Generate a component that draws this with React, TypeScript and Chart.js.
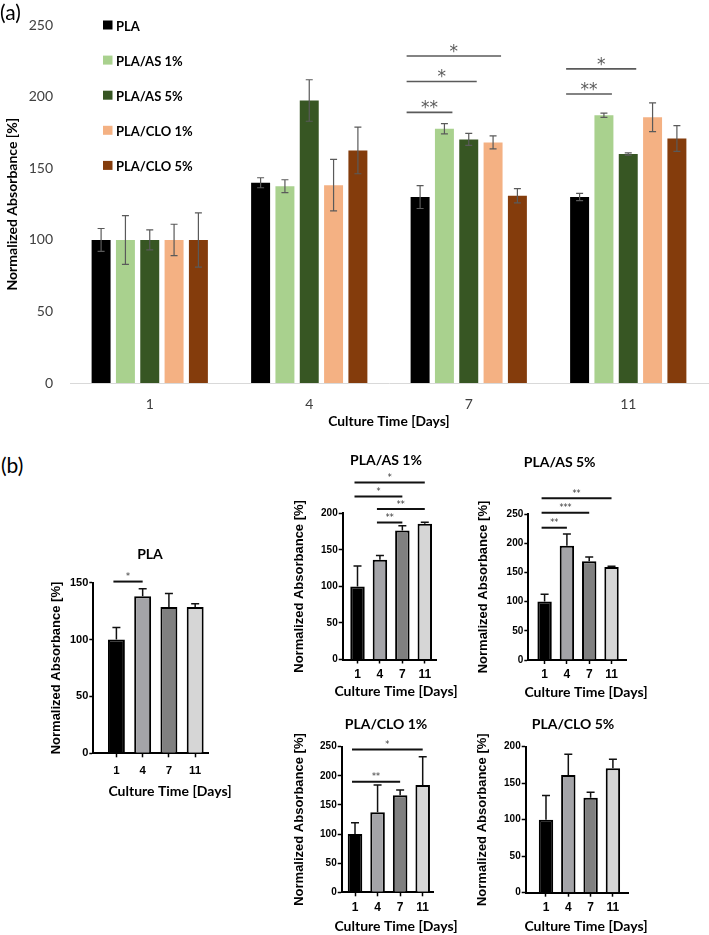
import React, { useEffect, useRef } from 'react';
import { Chart, registerables } from 'chart.js';

Chart.register(...registerables);

// ---------------- Panel (a) data ----------------
const DAYS = ['1', '4', '7', '11'];
const SERIES = ['PLA', 'PLA/AS 1%', 'PLA/AS 5%', 'PLA/CLO 1%', 'PLA/CLO 5%'];
const SERIES_COLORS = ['#000000', '#a9d18e', '#375623', '#f4b183', '#843c0c'];

const PLA_MEAN = [100, 140, 130, 130];
const PLA_SD = [8, 3.5, 8, 2.5];
const AS1_MEAN = [100, 137.6, 177.7, 187.2];
const AS1_SD = [17, 4.5, 3.6, 1.5];
const AS5_MEAN = [100, 197.5, 170.3, 160.1];
const AS5_SD = [7, 14.5, 4.2, 0.8];
const CLO1_MEAN = [100, 138.3, 168.2, 185.8];
const CLO1_SD = [11, 18, 4.5, 10];
const CLO5_MEAN = [100, 162.6, 130.9, 170.9];
const CLO5_SD = [19, 16.3, 5, 9];

// significance brackets of panel (a): day index, series from -> to, height (value), label
const SIG_A_DAY = [2, 2, 2, 3, 3];
const SIG_A_FROM = [0, 0, 0, 0, 0];
const SIG_A_TO = [3, 2, 1, 2, 1];
const SIG_A_Y = [228.6, 210.8, 189.2, 219.6, 202];
const SIG_A_LABEL = ['*', '*', '**', '*', '**'];

// ---------------- Panel (b) data ----------------
const B_COLORS = ['#000000', '#a4a4a8', '#808080', '#d6d6d6'];

const B_PLA_MEAN = [100, 138, 128.6, 128.6];
const B_PLA_SD = [10.5, 6.7, 11.8, 3];
const B_AS1_MEAN = [100, 136.3, 176.4, 185.6];
const B_AS1_SD = [28, 6, 6.5, 2];
const B_AS5_MEAN = [100, 195.7, 169, 159.2];
const B_AS5_SD = [12.5, 20, 7.5, 1.5];
const B_CLO1_MEAN = [100, 137.3, 166.5, 184.2];
const B_CLO1_SD = [19.5, 47, 9, 48.5];
const B_CLO5_MEAN = [100, 161.2, 130, 170.4];
const B_CLO5_SD = [33, 28.4, 7.5, 12.3];

const B_PLA_SIG = [{ from: 0, to: 1, y: 151, label: '*' }];
const B_AS1_SIG = [
  { from: 0, to: 3, y: 242, label: '*' },
  { from: 0, to: 2, y: 223, label: '*' },
  { from: 1, to: 3, y: 205.8, label: '**' },
  { from: 1, to: 2, y: 187.4, label: '**' },
];
const B_AS5_SIG = [
  { from: 0, to: 3, y: 277, label: '**' },
  { from: 0, to: 2, y: 252, label: '***' },
  { from: 0, to: 1, y: 226.5, label: '**' },
];
const B_CLO1_SIG = [
  { from: 0, to: 3, y: 245.4, label: '*' },
  { from: 0, to: 2, y: 189.8, label: '**' },
];
const B_CLO5_SIG: { from: number; to: number; y: number; label: string }[] = [];

// ---------------- Fonts ----------------
const LATO = 'Lato, "Open Sans", sans-serif';
const ARIAL = '"Liberation Sans", Arial, sans-serif';
const STAR = '"DejaVu Sans", sans-serif';

function fillCentered(ctx: CanvasRenderingContext2D, text: string, x: number, cy: number) {
  const m = ctx.measureText(text);
  const asc = m.actualBoundingBoxAscent;
  const desc = m.actualBoundingBoxDescent;
  ctx.textAlign = 'center';
  ctx.textBaseline = 'alphabetic';
  ctx.fillText(text, x, cy + (asc - desc) / 2);
}

// ---------------- Panel (a) chart ----------------
function TopChart() {
  const ref = useRef<HTMLCanvasElement>(null);
  useEffect(() => {
    const means = [PLA_MEAN, AS1_MEAN, AS5_MEAN, CLO1_MEAN, CLO5_MEAN];
    const sds = [PLA_SD, AS1_SD, AS5_SD, CLO1_SD, CLO5_SD];

    const errPlugin = {
      id: 'errA',
      afterDatasetsDraw(chart: any) {
        const { ctx } = chart;
        const ys = chart.scales.y;
        ctx.save();
        ctx.strokeStyle = '#5a5a5a';
        ctx.lineWidth = 1.2;
        means.forEach((m, di) => {
          const meta = chart.getDatasetMeta(di);
          meta.data.forEach((el: any, i: number) => {
            const t = ys.getPixelForValue(m[i] + sds[di][i]);
            const b = ys.getPixelForValue(m[i] - sds[di][i]);
            ctx.beginPath();
            ctx.moveTo(el.x, t);
            ctx.lineTo(el.x, b);
            ctx.moveTo(el.x - 3.5, t);
            ctx.lineTo(el.x + 3.5, t);
            ctx.moveTo(el.x - 3.5, b);
            ctx.lineTo(el.x + 3.5, b);
            ctx.stroke();
          });
        });
        ctx.restore();
      },
    };

    const sigPlugin = {
      id: 'sigA',
      afterDatasetsDraw(chart: any) {
        const { ctx } = chart;
        const ys = chart.scales.y;
        ctx.save();
        ctx.strokeStyle = '#5a5a5a';
        ctx.fillStyle = '#5a5a5a';
        ctx.lineWidth = 1.6;
        ctx.font = `17px ${STAR}`;
        SIG_A_DAY.forEach((day, k) => {
          const e0: any = chart.getDatasetMeta(SIG_A_FROM[k]).data[day];
          const e1: any = chart.getDatasetMeta(SIG_A_TO[k]).data[day];
          const x0 = e0.x - e0.width / 2 - 4;
          const x1 = e1.x + e1.width / 2 - 1.5;
          const y = ys.getPixelForValue(SIG_A_Y[k]);
          ctx.beginPath();
          ctx.moveTo(x0, y);
          ctx.lineTo(x1, y);
          ctx.stroke();
          fillCentered(ctx, SIG_A_LABEL[k], (x0 + x1) / 2, y - 7.5);
        });
        ctx.restore();
      },
    };

    const legendPlugin = {
      id: 'legendA',
      afterDraw(chart: any) {
        const { ctx } = chart;
        ctx.save();
        ctx.font = `bold 13px ${LATO}`;
        SERIES.forEach((name, i) => {
          const cy = 26 + i * 35.1;
          ctx.fillStyle = SERIES_COLORS[i];
          ctx.fillRect(103, cy - 5.5, 9.5, 9);
          ctx.fillStyle = '#000';
          ctx.textAlign = 'left';
          ctx.textBaseline = 'middle';
          ctx.fillText(name, 116, cy + 0.5);
        });
        ctx.restore();
      },
    };

    const chart = new Chart(ref.current as HTMLCanvasElement, {
      type: 'bar',
      data: {
        labels: DAYS,
        datasets: SERIES.map((name, i) => ({
          label: name,
          data: means[i],
          backgroundColor: SERIES_COLORS[i],
          borderWidth: 0,
          categoryPercentage: 0.7625,
          barPercentage: 0.78,
        })),
      },
      options: {
        animation: false,
        responsive: false,
        layout: { padding: { top: 13, right: 1, left: 0, bottom: 0 } },
        plugins: { legend: { display: false }, tooltip: { enabled: false } },
        scales: {
          x: {
            grid: { display: false, drawTicks: false },
            border: { display: true, color: '#d9d9d9', width: 1 },
            ticks: { font: { family: LATO, size: 14 }, color: '#404040', padding: 12.6 },
            title: {
              display: true,
              text: 'Culture Time [Days]',
              font: { family: LATO, size: 13.8, weight: 'bold' },
              color: '#000',
              padding: { top: 0, bottom: 2 },
            },
            afterFit: (s: any) => {
              s.height = 49;
            },
          },
          y: {
            min: 0,
            max: 250,
            ticks: { stepSize: 50, font: { family: LATO, size: 14 }, color: '#404040', padding: 17 },
            grid: { display: false, drawTicks: false },
            border: { display: false },
            title: {
              display: true,
              text: 'Normalized Absorbance [%]',
              font: { family: LATO, size: 14, weight: 'bold' },
              color: '#000',
              padding: { top: 3.6, bottom: 0 },
            },
            afterFit: (s: any) => {
              s.width = 70;
            },
          },
        },
      } as any,
      plugins: [errPlugin, sigPlugin, legendPlugin],
    });
    return () => chart.destroy();
  }, []);
  return (
    <canvas
      ref={ref}
      width={709}
      height={432}
      style={{ position: 'absolute', left: 0, top: 0, width: 709, height: 432 }}
    />
  );
}

// ---------------- Panel (b) charts ----------------
type Sig = { from: number; to: number; y: number; label: string };
type SmallCfg = {
  title: string;
  mean: number[];
  sd: number[];
  sig: Sig[];
  yMax: number;
  rect: { left: number; top: number; width: number; height: number };
  area: { left: number; top: number; right: number; bottom: number };
  xMin: number;
  xMax: number;
  titleX: number;
  titleY: number;
  yTitleX: number;
  yTick: number;
  xTick: number;
  xTickY: number;
  xTitleX: number;
  xTitleY: number;
};

const Y_TITLE_SIZE = 13;
const TL = 4;

function SmallChart({ cfg }: { cfg: SmallCfg }) {
  const ref = useRef<HTMLCanvasElement>(null);
  const r = cfg.rect;
  useEffect(() => {
    const c = cfg;
    const a = c.area;

    const errPlugin = {
      id: 'errB',
      afterDatasetsDraw(chart: any) {
        const { ctx } = chart;
        const ys = chart.scales.y;
        const meta = chart.getDatasetMeta(0);
        ctx.save();
        ctx.strokeStyle = '#111';
        ctx.lineWidth = 1.5;
        meta.data.forEach((el: any, i: number) => {
          const t = ys.getPixelForValue(c.mean[i] + c.sd[i]);
          ctx.beginPath();
          ctx.moveTo(el.x, el.y);
          ctx.lineTo(el.x, t);
          ctx.moveTo(el.x - 4, t);
          ctx.lineTo(el.x + 4, t);
          ctx.stroke();
        });
        ctx.restore();
      },
    };

    const sigPlugin = {
      id: 'sigB',
      afterDatasetsDraw(chart: any) {
        const { ctx } = chart;
        const xs = chart.scales.x;
        const ys = chart.scales.y;
        ctx.save();
        ctx.strokeStyle = '#111';
        ctx.fillStyle = '#333';
        ctx.lineWidth = 2;
        ctx.font = `8px ${STAR}`;
        c.sig.forEach((s) => {
          const x0 = xs.getPixelForValue(s.from) - 3;
          const x1 = xs.getPixelForValue(s.to);
          const y = ys.getPixelForValue(s.y);
          ctx.beginPath();
          ctx.moveTo(x0, y);
          ctx.lineTo(x1, y);
          ctx.stroke();
          fillCentered(ctx, s.label, (x0 + x1) / 2, y - 7);
        });
        ctx.restore();
      },
    };

    const textPlugin = {
      id: 'textB',
      afterDraw(chart: any) {
        const { ctx } = chart;
        ctx.save();
        ctx.fillStyle = '#000';
        ctx.font = `bold 14px ${LATO}`;
        fillCentered(ctx, c.title, c.titleX - r.left, c.titleY - r.top);
        ctx.font = `bold 14px ${LATO}`;
        fillCentered(ctx, 'Culture Time [Days]', c.xTitleX - r.left, c.xTitleY - r.top);
        ctx.restore();
      },
    };

    const axisGrid = {
      display: true,
      drawOnChartArea: false,
      drawTicks: true,
      tickLength: TL,
      tickColor: '#000',
      tickWidth: 1.5,
      offset: false,
    };

    const chart = new Chart(ref.current as HTMLCanvasElement, {
      type: 'bar',
      data: {
        datasets: [
          {
            data: c.mean.map((v, i) => ({ x: i, y: v })),
            backgroundColor: B_COLORS,
            borderColor: '#000',
            borderWidth: 2,
            borderSkipped: 'start',
            categoryPercentage: 1,
            barPercentage: 0.645,
          },
        ],
      },
      options: {
        animation: false,
        responsive: false,
        layout: {
          padding: { left: 0, bottom: 0, top: a.top - r.top, right: r.left + r.width - a.right },
        },
        plugins: { legend: { display: false }, tooltip: { enabled: false } },
        scales: {
          x: {
            type: 'linear',
            min: c.xMin,
            max: c.xMax,
            offset: false,
            grid: axisGrid,
            border: { display: true, color: '#000', width: 2 },
            afterBuildTicks: (s: any) => {
              s.ticks = DAYS.map((_, i) => ({ value: i }));
            },
            ticks: {
              autoSkip: false,
              maxRotation: 0,
              callback: (v: any) => DAYS[Math.round(Number(v))],
              font: { family: ARIAL, size: c.xTick, weight: 'bold' },
              color: '#000',
              padding: c.xTickY - a.bottom - TL - c.xTick * 0.6,
            },
            title: { display: false },
            afterFit: (s: any) => {
              s.height = r.top + r.height - a.bottom;
            },
          },
          y: {
            min: 0,
            max: c.yMax,
            ticks: {
              stepSize: 50,
              font: { family: ARIAL, size: c.yTick, weight: 'bold' },
              color: '#000',
              padding: 1,
            },
            grid: axisGrid,
            border: { display: true, color: '#000', width: 2 },
            title: {
              display: true,
              text: 'Normalized Absorbance [%]',
              font: { family: ARIAL, size: Y_TITLE_SIZE, weight: 'bold' },
              color: '#000',
              padding: { top: c.yTitleX - r.left - (Y_TITLE_SIZE * 1.2) / 2, bottom: 0 },
            },
            afterFit: (s: any) => {
              s.width = a.left - r.left;
            },
          },
        },
      } as any,
      plugins: [errPlugin, sigPlugin, textPlugin],
    });
    return () => chart.destroy();
  }, [cfg]);
  return (
    <canvas
      ref={ref}
      width={r.width}
      height={r.height}
      style={{ position: 'absolute', left: r.left, top: r.top, width: r.width, height: r.height }}
    />
  );
}

const SMALL: SmallCfg[] = [
  {
    title: 'PLA',
    mean: B_PLA_MEAN,
    sd: B_PLA_SD,
    sig: B_PLA_SIG,
    yMax: 150,
    rect: { left: 46, top: 540, width: 200, height: 262 },
    area: { left: 93.3, top: 582.7, right: 208.3, bottom: 753.3 },
    xMin: -0.88,
    xMax: 3.5,
    titleX: 150,
    titleY: 554,
    yTitleX: 56,
    yTick: 11,
    xTick: 11.5,
    xTickY: 770.7,
    xTitleX: 170,
    xTitleY: 791.7,
  },
  {
    title: 'PLA/AS 1%',
    mean: B_AS1_MEAN,
    sd: B_AS1_SD,
    sig: B_AS1_SIG,
    yMax: 200,
    rect: { left: 289, top: 445, width: 170, height: 257 },
    area: { left: 342.7, top: 513.3, right: 436, bottom: 659.5 },
    xMin: -0.66,
    xMax: 3.5,
    titleX: 386,
    titleY: 460,
    yTitleX: 299.3,
    yTick: 10,
    xTick: 12,
    xTickY: 675,
    xTitleX: 396,
    xTitleY: 691.7,
  },
  {
    title: 'PLA/AS 5%',
    mean: B_AS5_MEAN,
    sd: B_AS5_SD,
    sig: B_AS5_SIG,
    yMax: 250,
    rect: { left: 473, top: 447, width: 180, height: 256 },
    area: { left: 528.3, top: 514, right: 626.7, bottom: 660 },
    xMin: -0.73,
    xMax: 3.68,
    titleX: 559.7,
    titleY: 462,
    yTitleX: 483.3,
    yTick: 10,
    xTick: 12,
    xTickY: 675,
    xTitleX: 586,
    xTitleY: 692.7,
  },
  {
    title: 'PLA/CLO 1%',
    mean: B_CLO1_MEAN,
    sd: B_CLO1_SD,
    sig: B_CLO1_SIG,
    yMax: 250,
    rect: { left: 289, top: 710, width: 170, height: 225 },
    area: { left: 341.7, top: 746.7, right: 433.3, bottom: 892.3 },
    xMin: -0.59,
    xMax: 3.47,
    titleX: 386,
    titleY: 724,
    yTitleX: 299,
    yTick: 10,
    xTick: 12,
    xTickY: 907.7,
    xTitleX: 396,
    xTitleY: 926,
  },
  {
    title: 'PLA/CLO 5%',
    mean: B_CLO5_MEAN,
    sd: B_CLO5_SD,
    sig: B_CLO5_SIG,
    yMax: 200,
    rect: { left: 473, top: 710, width: 180, height: 225 },
    area: { left: 525.7, top: 746.7, right: 628.3, bottom: 892.7 },
    xMin: -0.91,
    xMax: 3.69,
    titleX: 573,
    titleY: 724,
    yTitleX: 482.7,
    yTick: 10,
    xTick: 12,
    xTickY: 908,
    xTitleX: 586,
    xTitleY: 926,
  },
];

export default function App() {
  return (
    <div
      style={{
        position: 'absolute',
        left: 0,
        top: 0,
        width: 709,
        height: 935,
        background: '#fff',
        overflow: 'hidden',
      }}
    >
      <TopChart />
      {SMALL.map((cfg) => (
        <SmallChart key={cfg.title} cfg={cfg} />
      ))}
      <div
        style={{
          position: 'absolute',
          left: 0,
          top: 1,
          fontFamily: LATO,
          fontSize: 21,
          lineHeight: '22px',
          color: '#000',
        }}
      >
        (a)
      </div>
      <div
        style={{
          position: 'absolute',
          left: 1,
          top: 454,
          fontFamily: LATO,
          fontSize: 21,
          lineHeight: '22px',
          color: '#000',
        }}
      >
        (b)
      </div>
    </div>
  );
}
